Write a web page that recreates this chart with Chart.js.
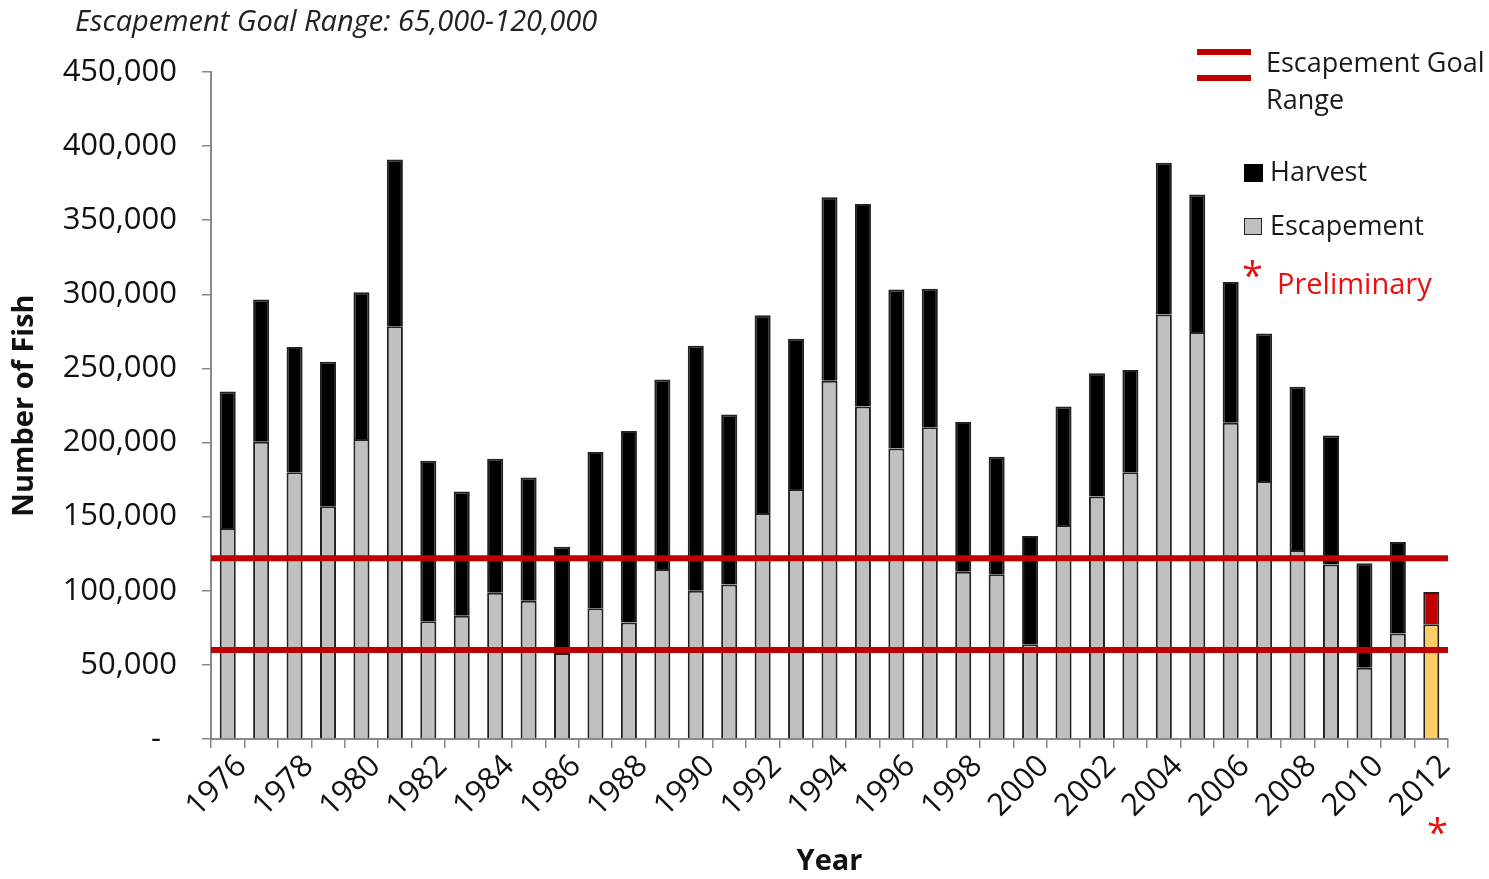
<!DOCTYPE html>
<html>
<head>
<meta charset="utf-8">
<script src="https://cdn.jsdelivr.net/npm/chart.js@4.4.1/dist/chart.umd.min.js"></script>
<style>
  html, body { margin: 0; padding: 0; background: #fff; }
  #wrap { position: relative; width: 1489px; height: 879px; font-family: 'Open Sans', sans-serif; color: #1a1a1a; }
  #wrap canvas { position: absolute; left: 0; top: 0; }
  .txt { position: absolute; white-space: nowrap; line-height: 1; }
  .box { position: absolute; }
</style>
</head>
<body>
<div id="wrap">
  <canvas id="chart" width="1489" height="879"></canvas>
  <div class="txt" style="left:75px; top:5px; font-size:29px; font-style:italic; color:#222;">Escapement Goal Range: 65,000-120,000</div>

  <div class="box" style="left:1197px; top:49px; width:54px; height:6px; background:#c00000;"></div>
  <div class="box" style="left:1197px; top:75px; width:54px; height:6px; background:#c00000;"></div>
  <div class="txt" style="left:1266px; top:43px; font-size:27px; line-height:37px;">Escapement Goal<br>Range</div>

  <div class="box" style="left:1244px; top:164px; width:19px; height:18px; background:#000;"></div>
  <div class="txt" style="left:1270px; top:157px; font-size:27px;">Harvest</div>

  <div class="box" style="left:1244px; top:218px; width:16px; height:15px; background:#c0c0c0; border:1.5px solid #222;"></div>
  <div class="txt" style="left:1270px; top:211px; font-size:27px;">Escapement</div>

  <div class="txt" style="left:1242px; top:255px; font-size:38px; color:#e81010;">*</div>
  <div class="txt" style="left:1277px; top:268px; font-size:29px; color:#e81010;">Preliminary</div>

  <div class="txt" style="left:1427px; top:812px; font-size:38px; color:#e81010;">*</div>
</div>
<script>
const years = ['1976', '1977', '1978', '1979', '1980', '1981', '1982', '1983', '1984', '1985',
  '1986', '1987', '1988', '1989', '1990', '1991', '1992', '1993', '1994', '1995',
  '1996', '1997', '1998', '1999', '2000', '2001', '2002', '2003', '2004', '2005',
  '2006', '2007', '2008', '2009', '2010', '2011', '2012'];

const escapement = [142300, 200500, 180000, 157000, 202400, 278400, 79400, 83200, 98700, 93300,
  58000, 88200, 78600, 114700, 100000, 104300, 152400, 168700, 241700, 224300,
  196000, 210400, 112800, 111200, 63900, 144400, 163600, 180000, 286400, 274600,
  213400, 174100, 127500, 117700, 48100, 71100, 77500];

const harvest = [92200, 96000, 84500, 97600, 99000, 112500, 108300, 83700, 90400, 83200,
  71700, 105400, 129200, 127800, 165300, 114700, 133500, 101400, 123800, 136700,
  107200, 93400, 101100, 79200, 73000, 79900, 83200, 68900, 102400, 92800,
  94900, 99400, 110200, 87100, 70400, 61800, 21700];

// the goal lines as drawn on the chart
const goalLines = [60000, 122000];
const preliminaryYear = '2012';

const goalLinePlugin = {
  id: 'goalLines',
  afterDatasetsDraw: (chart) => {
    const {ctx, chartArea, scales} = chart;
    ctx.save();
    ctx.strokeStyle = '#c00000';
    ctx.lineWidth = 6;
    for (const v of goalLines) {
      const py = scales.y.getPixelForValue(v);
      ctx.beginPath();
      ctx.moveTo(chartArea.left, py);
      ctx.lineTo(chartArea.right, py);
      ctx.stroke();
    }
    ctx.restore();
  }
};

Chart.defaults.font.family = "'Open Sans', sans-serif";
Chart.defaults.color = '#111';

new Chart(document.getElementById('chart'), {
  type: 'bar',
  data: {
    labels: years,
    datasets: [
      {
        label: 'Escapement',
        data: escapement,
        backgroundColor: years.map(y => y === preliminaryYear ? '#ffcc66' : '#c0c0c0'),
        borderColor: '#222',
        borderWidth: 2,
      },
      {
        label: 'Harvest',
        data: harvest,
        backgroundColor: years.map(y => y === preliminaryYear ? '#c00000' : '#000'),
        borderColor: '#222',
        borderWidth: 2,
      }
    ]
  },
  options: {
    responsive: false,
    animation: false,
    datasets: {
      bar: { categoryPercentage: 1, barPercentage: 0.48 }
    },
    layout: {
      padding: { left: 0, top: 72, right: 41, bottom: 0 }
    },
    scales: {
      x: {
        stacked: true,
        afterFit: s => { s.height = 140; },
        grid: { offset: true, drawOnChartArea: false, tickLength: 9, color: '#888', lineWidth: 1.5 },
        border: { color: '#888', width: 2 },
        ticks: {
          autoSkip: false,
          minRotation: 45,
          maxRotation: 45,
          padding: 0,
          labelOffset: 14,
          font: { size: 31 },
          callback: function (v, i) { return i % 2 === 0 ? this.getLabelForValue(v) : ''; }
        },
        title: {
          display: true,
          text: 'Year',
          font: { size: 29, weight: 'bold' },
          padding: { top: 0, bottom: 0 }
        }
      },
      y: {
        stacked: true,
        min: 0,
        max: 450000,
        afterFit: s => { s.width = 211; },
        grid: { drawOnChartArea: false, tickLength: 9, color: '#888', lineWidth: 1.5 },
        border: { color: '#888', width: 2 },
        ticks: {
          stepSize: 50000,
          padding: 25,
          font: { size: 31 },
          callback: v => v === 0 ? '-  ' : v.toLocaleString('en-US')
        },
        title: {
          display: true,
          text: 'Number of Fish',
          font: { size: 29, weight: 'bold' },
          padding: { top: 7, bottom: 0 }
        }
      }
    },
    plugins: {
      legend: { display: false },
      tooltip: { enabled: false }
    }
  },
  plugins: [goalLinePlugin]
});
</script>
</body>
</html>
